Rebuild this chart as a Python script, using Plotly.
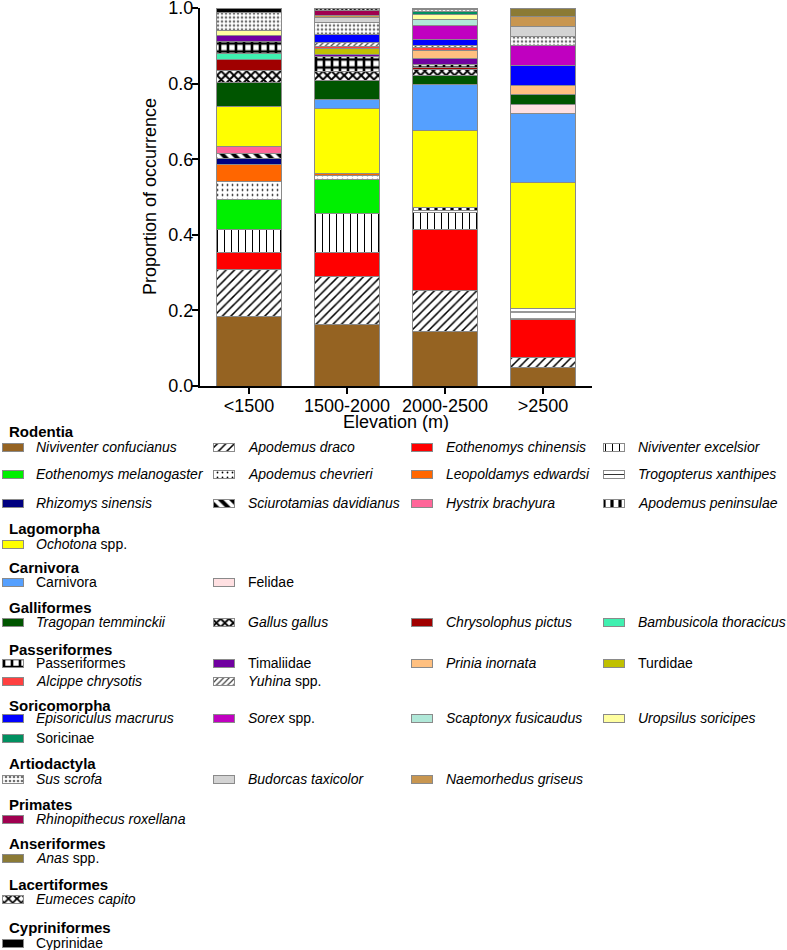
import plotly.graph_objects as go

# ---------------- data ----------------
categories = ["<1500", "1500-2000", "2000-2500", ">2500"]

species = [
    "Niviventer confucianus", "Apodemus draco", "Eothenomys chinensis", "Niviventer excelsior",
    "Eothenomys melanogaster", "Apodemus chevrieri", "Leopoldamys edwardsi", "Trogopterus xanthipes",
    "Rhizomys sinensis", "Sciurotamias davidianus", "Hystrix brachyura", "Apodemus peninsulae",
    "Ochotona spp.",
    "Carnivora", "Felidae",
    "Tragopan temminckii", "Gallus gallus", "Chrysolophus pictus", "Bambusicola thoracicus",
    "Passeriformes", "Timaliidae", "Prinia inornata", "Turdidae", "Alcippe chrysotis", "Yuhina spp.",
    "Episoriculus macrurus", "Sorex spp.", "Scaptonyx fusicaudus", "Uropsilus soricipes", "Soricinae",
    "Sus scrofa", "Budorcas taxicolor", "Naemorhedus griseus",
    "Rhinopithecus roxellana",
    "Anas spp.",
    "Eumeces capito",
    "Cyprinidae",
]

values_below_1500 = [
    0.184, 0.123, 0.047, 0.061, 0.078, 0.048, 0.044, 0.000, 0.016, 0.015, 0.017, 0.000,
    0.107,
    0.000, 0.000,
    0.062, 0.032, 0.031, 0.014,
    0.033, 0.015, 0.000, 0.000, 0.000, 0.000,
    0.000, 0.000, 0.000, 0.014, 0.000,
    0.046, 0.000, 0.000,
    0.000,
    0.000,
    0.000,
    0.013,
]
values_1500_2000 = [
    0.163, 0.128, 0.061, 0.104, 0.090, 0.011, 0.006, 0.000, 0.000, 0.000, 0.000, 0.000,
    0.170,
    0.025, 0.000,
    0.051, 0.024, 0.000, 0.000,
    0.038, 0.006, 0.000, 0.015, 0.007, 0.009,
    0.022, 0.000, 0.000, 0.000, 0.000,
    0.031, 0.013, 0.007,
    0.013,
    0.000,
    0.006,
    0.000,
]
values_2000_2500 = [
    0.144, 0.110, 0.159, 0.046, 0.000, 0.000, 0.000, 0.005, 0.000, 0.000, 0.000, 0.009,
    0.202,
    0.124, 0.000,
    0.022, 0.016, 0.005, 0.000,
    0.010, 0.014, 0.022, 0.000, 0.007, 0.006,
    0.016, 0.037, 0.015, 0.014, 0.007,
    0.006, 0.000, 0.000,
    0.000,
    0.004,
    0.000,
    0.000,
]
values_above_2500 = [
    0.050, 0.025, 0.102, 0.000, 0.000, 0.000, 0.000, 0.027, 0.000, 0.000, 0.000, 0.000,
    0.335,
    0.181, 0.024,
    0.027, 0.000, 0.000, 0.000,
    0.000, 0.000, 0.024, 0.000, 0.000, 0.000,
    0.054, 0.052, 0.000, 0.000, 0.000,
    0.024, 0.027, 0.026,
    0.000,
    0.022,
    0.000,
    0.000,
]
series = [values_below_1500, values_1500_2000, values_2000_2500, values_above_2500]

y_tick_values = [0.0, 0.2, 0.4, 0.6, 0.8, 1.0]
y_tick_labels = ["0.0", "0.2", "0.4", "0.6", "0.8", "1.0"]

# legend groups: order header + rows of species names (4 columns)
legend_groups = [
    ("Rodentia", [
        ["Niviventer confucianus", "Apodemus draco", "Eothenomys chinensis", "Niviventer excelsior"],
        ["Eothenomys melanogaster", "Apodemus chevrieri", "Leopoldamys edwardsi", "Trogopterus xanthipes"],
        ["Rhizomys sinensis", "Sciurotamias davidianus", "Hystrix brachyura", "Apodemus peninsulae"],
    ]),
    ("Lagomorpha", [["Ochotona spp."]]),
    ("Carnivora", [["Carnivora", "Felidae"]]),
    ("Galliformes", [["Tragopan temminckii", "Gallus gallus", "Chrysolophus pictus", "Bambusicola thoracicus"]]),
    ("Passeriformes", [["Passeriformes", "Timaliidae", "Prinia inornata", "Turdidae"],
                       ["Alcippe chrysotis", "Yuhina spp."]]),
    ("Soricomorpha", [["Episoriculus macrurus", "Sorex spp.", "Scaptonyx fusicaudus", "Uropsilus soricipes"],
                      ["Soricinae"]]),
    ("Artiodactyla", [["Sus scrofa", "Budorcas taxicolor", "Naemorhedus griseus"]]),
    ("Primates", [["Rhinopithecus roxellana"]]),
    ("Anseriformes", [["Anas spp."]]),
    ("Lacertiformes", [["Eumeces capito"]]),
    ("Cypriniformes", [["Cyprinidae"]]),
]
non_italic = {"Carnivora", "Felidae", "Passeriformes", "Timaliidae", "Turdidae", "Soricinae", "Cyprinidae"}

# ---------------- styles ----------------
# name: (color/bg, pattern shape, fg, pattern size, solidity)
styles = {
    "Niviventer confucianus": ("#956322", "", None, None, None),
    "Apodemus draco": ("white", "/", "black", 6, 0.25),
    "Eothenomys chinensis": ("#ff0000", "", None, None, None),
    "Niviventer excelsior": ("white", "|", "black", 7, 0.15),
    "Eothenomys melanogaster": ("#00f000", "", None, None, None),
    "Apodemus chevrieri": ("white", ".", "black", 5, 0.1),
    "Leopoldamys edwardsi": ("#ff6600", "", None, None, None),
    "Trogopterus xanthipes": ("white", "-", "#333333", 7, 0.15),
    "Rhizomys sinensis": ("#000080", "", None, None, None),
    "Sciurotamias davidianus": ("white", "\\", "black", 8, 0.5),
    "Hystrix brachyura": ("#ff6699", "", None, None, None),
    "Apodemus peninsulae": ("white", "|", "black", 8, 0.4),
    "Ochotona spp.": ("#ffff00", "", None, None, None),
    "Carnivora": ("#55a0ff", "", None, None, None),
    "Felidae": ("#ffe0e2", "", None, None, None),
    "Tragopan temminckii": ("#005500", "", None, None, None),
    "Gallus gallus": ("white", "x", "black", 6, 0.55),
    "Chrysolophus pictus": ("#a00000", "", None, None, None),
    "Bambusicola thoracicus": ("#40f0b0", "", None, None, None),
    "Passeriformes": ("white", "+", "black", 8, 0.55),
    "Timaliidae": ("#7000a0", "", None, None, None),
    "Prinia inornata": ("#ffc080", "", None, None, None),
    "Turdidae": ("#c0c000", "", None, None, None),
    "Alcippe chrysotis": ("#ff4040", "", None, None, None),
    "Yuhina spp.": ("white", "/", "#404040", 4, 0.3),
    "Episoriculus macrurus": ("#0000ff", "", None, None, None),
    "Sorex spp.": ("#c000c0", "", None, None, None),
    "Scaptonyx fusicaudus": ("#b0e8d8", "", None, None, None),
    "Uropsilus soricipes": ("#ffffa0", "", None, None, None),
    "Soricinae": ("#009060", "", None, None, None),
    "Sus scrofa": ("white", ".", "#707070", 4, 0.35),
    "Budorcas taxicolor": ("#d3d3d3", "", None, None, None),
    "Naemorhedus griseus": ("#c89650", "", None, None, None),
    "Rhinopithecus roxellana": ("#a00050", "", None, None, None),
    "Anas spp.": ("#8b7a35", "", None, None, None),
    "Eumeces capito": ("white", "x", "black", 6, 0.5),
    "Cyprinidae": ("#000000", "", None, None, None),
}

W, H = 787, 950
FONT = "Liberation Sans, Arial, sans-serif"
EDGE = "#8a8a8a"

# legend layout (pixel rows from the top of the page)
header_ys = [432, 528, 567, 607, 649, 705, 763, 804, 843, 884, 927]
row_ys = [[447, 474, 503], [544], [582], [622], [663, 681], [718, 738], [779], [819], [858], [899], [943]]
col_swatch_x = [2, 213, 411.5, 603.5]
col_text_x = [34, 246, 444, 636]
swatch_w, swatch_h = 21, 8


def px(x):
    return x / W


def py(y):
    return 1 - y / H


def marker_for(name):
    color, shape, fg, size, sol = styles[name]
    m = dict(color=color, line=dict(color=EDGE, width=1))
    if shape:
        m["pattern"] = dict(shape=shape, fgcolor=fg, bgcolor=color, size=size,
                            solidity=sol, fillmode="replace")
    return m


def label_html(name):
    if name in non_italic:
        return name
    if name.endswith(" spp."):
        return "<i>" + name[:-5] + "</i> spp."
    return "<i>" + name + "</i>"


fig = go.Figure()

# ---------------- main stacked bars ----------------
for i, name in enumerate(species):
    vals = [s[i] for s in series]
    yv = [v if v > 0 else None for v in vals]
    fig.add_trace(go.Bar(
        x=categories, y=yv, name=name, width=0.67,
        marker=marker_for(name), xaxis="x", yaxis="y",
        showlegend=False, hoverinfo="skip",
    ))

# ---------------- custom legend ----------------
annotations = []
for g, (header, rows) in enumerate(legend_groups):
    annotations.append(dict(
        x=px(7), y=py(header_ys[g]), xref="paper", yref="paper", xanchor="left", yanchor="middle",
        text="<b>" + header + "</b>", showarrow=False,
        font=dict(family=FONT, size=15, color="black"),
    ))
    for r, row in enumerate(rows):
        ry = row_ys[g][r]
        for c, name in enumerate(row):
            fig.add_trace(go.Bar(
                orientation="h", y=[ry], x=[swatch_w], base=[col_swatch_x[c]],
                width=swatch_h, marker=marker_for(name),
                xaxis="x2", yaxis="y2", showlegend=False, hoverinfo="skip",
            ))
            annotations.append(dict(
                x=px(col_text_x[c]), y=py(ry), xref="paper", yref="paper",
                xanchor="left", yanchor="middle", text=label_html(name), showarrow=False,
                font=dict(family=FONT, size=14, color="black"),
            ))

# axis titles
annotations.append(dict(
    x=px(150), y=py(197), xref="paper", yref="paper", xanchor="center", yanchor="middle",
    text="Proportion of occurrence", textangle=-90, showarrow=False,
    font=dict(family=FONT, size=18, color="black"),
))
annotations.append(dict(
    x=px(396), y=py(422), xref="paper", yref="paper", xanchor="center", yanchor="middle",
    text="Elevation (m)", showarrow=False,
    font=dict(family=FONT, size=18, color="black"),
))

fig.update_layout(
    width=W, height=H,
    margin=dict(l=0, r=0, t=0, b=0, pad=0, autoexpand=False),
    paper_bgcolor="white", plot_bgcolor="rgba(0,0,0,0)",
    barmode="stack",
    font=dict(family=FONT, size=18, color="black"),
    showlegend=False,
    xaxis=dict(
        domain=[px(200), px(592)], anchor="y", type="category",
        range=[-0.5, 3.5], showline=True, linewidth=2, linecolor="black",
        ticks="outside", ticklen=6, tickwidth=2, tickcolor="black",
        showgrid=False, zeroline=False, tickfont=dict(size=18),
        fixedrange=True, automargin=False, ticklabelstandoff=-4,
    ),
    yaxis=dict(
        domain=[py(386), py(7.5)], anchor="x", range=[0, 1.0015],
        tickvals=y_tick_values, ticktext=y_tick_labels,
        showline=True, linewidth=2, linecolor="black",
        ticks="outside", ticklen=6, tickwidth=2, tickcolor="black",
        showgrid=False, zeroline=False, tickfont=dict(size=18),
        fixedrange=True, automargin=False, ticklabeloverflow="allow",
        ticklabelstandoff=-5,
    ),
    xaxis2=dict(domain=[0, 1], anchor="y2", range=[0, W], visible=False,
                fixedrange=True, automargin=False),
    yaxis2=dict(domain=[0, py(415)], anchor="x2", range=[H, 415], visible=False,
                fixedrange=True, automargin=False),
    annotations=annotations,
)

fig.write_html(
    "out.html",
    config={"displayModeBar": False},
    post_script="document.body.style.margin='0';document.body.style.overflow='hidden';",
)
